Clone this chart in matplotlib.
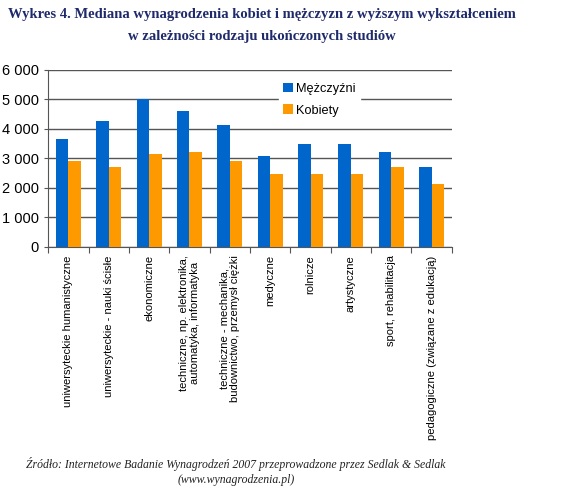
import numpy as np
import matplotlib.pyplot as plt
from matplotlib.ticker import FuncFormatter

plt.rcParams['font.family'] = ['Liberation Sans', 'DejaVu Sans']

# categories and medians (PLN)
categories = ['uniwersyteckie humanistyczne',
              'uniwersyteckie - nauki ścisłe',
              'ekonomiczne',
              'techniczne, np. elektronika,\nautomatyka, informatyka',
              'techniczne - mechanika,\nbudownictwo, przemysł ciężki',
              'medyczne',
              'rolnicze',
              'artystyczne',
              'sport, rehabilitacja',
              'pedagogiczne (związane z edukacją)']
men = [3650, 4270, 5000, 4600, 4120, 3070, 3500, 3500, 3220, 2700]
women = [2920, 2700, 3160, 3220, 2920, 2480, 2480, 2480, 2700, 2120]

fig = plt.figure(figsize=(5.8, 4.92), dpi=100)
ax = fig.add_axes([0.083, 0.498, 0.696, 0.36])

x = np.arange(len(categories))
w = 0.31
ax.bar(x - w/2, men, w, color='#0066CC', label='Mężczyźni', zorder=3)
ax.bar(x + w/2, women, w, color='#FF9900', label='Kobiety', zorder=3)

ax.set_ylim(0, 6000)
ax.set_xlim(-0.5, len(categories) - 0.5)
ax.set_yticks(range(0, 6001, 1000))
ax.yaxis.set_major_formatter(FuncFormatter(lambda v, p: f'{int(v):,}'.replace(',', ' ')))
ax.grid(axis='y', color='#555555', linewidth=1, zorder=0)
ax.tick_params(axis='y', labelsize=10.5, length=3, color='#555555')

# ticks at category boundaries, labels at centres
ax.set_xticks(np.arange(-0.5, len(categories)), minor=False)
ax.set_xticklabels([])
ax.set_xticks(x, minor=True)
ax.set_xticklabels(categories, minor=True, rotation=90, fontsize=8,
                   va='top', ha='center', linespacing=1.1)
ax.tick_params(axis='x', which='major', length=4, color='#555555')
ax.tick_params(axis='x', which='minor', length=0, pad=6)

for s in ['top', 'right']:
    ax.spines[s].set_visible(False)
ax.spines['left'].set_color('#555555')
ax.spines['bottom'].set_color('#555555')

leg = ax.legend(loc='center left', bbox_to_anchor=(0.555, 0.832), frameon=True,
                fontsize=9.2, handlelength=0.75, handleheight=0.75,
                handletextpad=0.3, labelspacing=0.75, borderpad=0.35)
leg.get_frame().set_edgecolor('white')
leg.get_frame().set_facecolor('white')
leg.get_frame().set_alpha(1)
leg.get_frame().set_boxstyle('square', pad=0)

fig.text(0.452, 0.984, 'Wykres 4. Mediana wynagrodzenia kobiet i mężczyzn z wyższym wykształceniem\n'
         'w zależności rodzaju ukończonych studiów',
         ha='center', va='top', fontsize=10.5, fontweight='bold',
         family='Liberation Serif', color='#1F2A6B', linespacing=1.9)

fig.text(0.407, 0.041, 'Źródło: Internetowe Badanie Wynagrodzeń 2007 przeprowadzone przez Sedlak & Sedlak\n'
         '(www.wynagrodzenia.pl)',
         ha='center', va='center', fontsize=8.5, style='italic',
         family='Liberation Serif', color='#222222', linespacing=1.3)

fig.savefig('out.png', dpi=100)
